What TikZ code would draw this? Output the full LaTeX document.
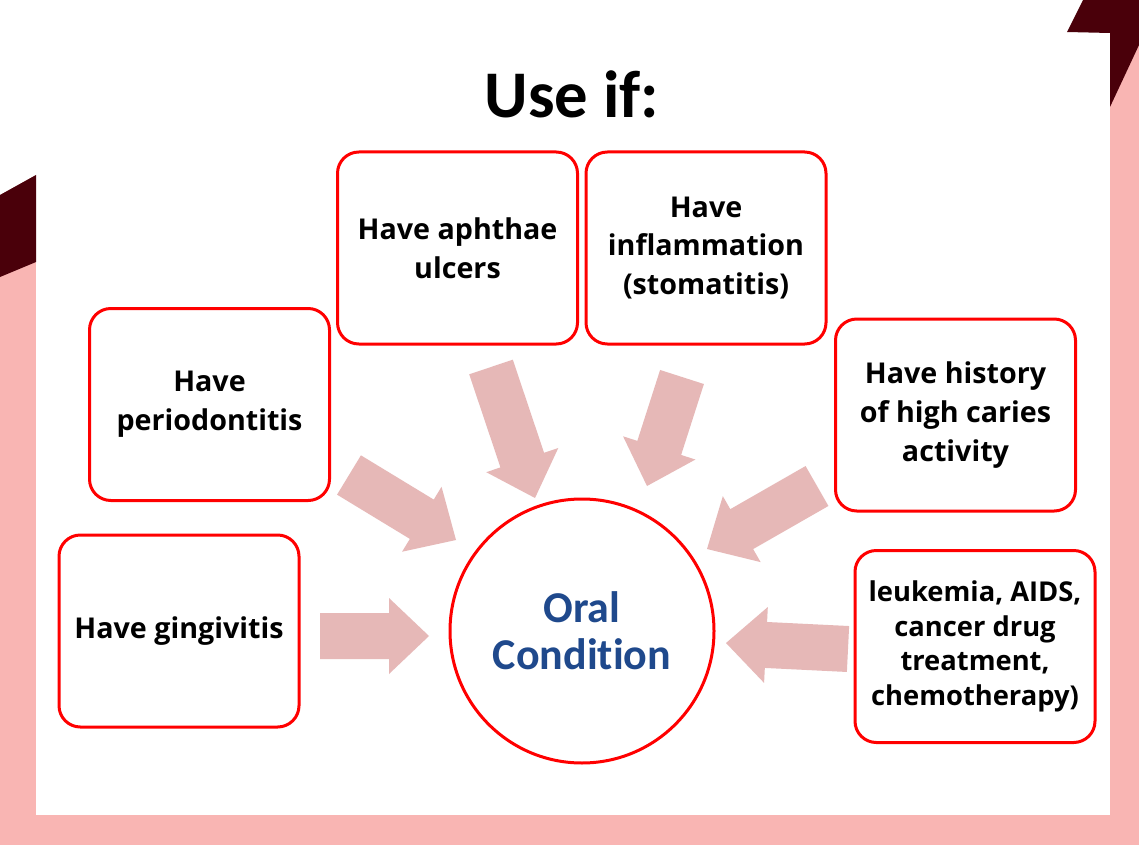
\documentclass[tikz,border=0pt]{standalone}
\usepackage{fontspec}
\setmainfont{Open Sans}
\newfontfamily\carl{Carlito}[Ligatures=NoCommon]
\usetikzlibrary{calc}
\definecolor{pinkbg}{RGB}{249,181,179}
\definecolor{maroon}{RGB}{74,0,10}
\definecolor{arrowpink}{RGB}{230,184,183}
\definecolor{boxred}{RGB}{255,0,0}
\definecolor{oralblue}{RGB}{31,73,140}
\newcommand\blockarrow[2]{%
  \coordinate (ab) at ($(#2)!30pt!(#1)$);
  \fill[arrowpink] ($(#1)!17.25pt!90:(#2)$) -- ($(ab)!17.25pt!90:(#2)$) -- ($(ab)!28.5pt!90:(#2)$) -- (#2)
    -- ($(ab)!28.5pt!-90:(#2)$) -- ($(ab)!17.25pt!-90:(#2)$) -- ($(#1)!17.25pt!-90:(#2)$) -- cycle;}
\begin{document}
\begin{tikzpicture}[x=0.75pt,y=-0.75pt,
  cbox/.style={draw=boxred, line width=2.25pt, rounded corners=16pt, minimum width=180pt,
    minimum height=144pt, align=center, text=black, inner sep=0pt,
    font=\bfseries\fontsize{21.5}{29}\selectfont},
  smallbox/.style={cbox, font=\bfseries\fontsize{20.5}{26}\selectfont}]
% background
\useasboundingbox (0,0) rectangle (1139,845);
\fill[pinkbg] (0,0) rectangle (1139,845);
\fill[white] (36,0) rectangle (1110,815);
\fill[white] (0,0) -- (36,0) -- (36,175) -- (0,195) -- cycle;
\fill[maroon] (0,195) -- (36,175) -- (36,262) -- (0,277) -- cycle;
\fill[maroon] (1067,32) -- (1083,0) -- (1139,0) -- (1139,45) -- (1110,107) -- (1110,33) -- cycle;
% title
\node[font=\carl\bfseries\fontsize{50}{60}\selectfont, anchor=base] (title) at (572,118) {Use if:};
% boxes
\node[cbox] (per) at (209.5,404.5) {Have\\periodontitis};
\node[cbox] (aph) at (457.5,248) {Have aphthae\\ulcers};
\node[cbox] (inf) at (706,248) {Have\\inflammation\\(stomatitis)};
\node[cbox] (car) at (955.5,415) {Have history\\of high caries\\activity};
\node[cbox] (gin) at (179,631) {Have gingivitis};
\node[smallbox] (leu) at (975,646.5) {leukemia, AIDS,\\cancer drug\\treatment,\\chemotherapy)};
% centre
\node[circle, draw=boxred, line width=2.25pt, minimum size=198pt, align=center, text=oralblue,
  font=\carl\bfseries\fontsize{33}{35}\selectfont] (oral) at (582,631) {Oral\\Condition};
% arrows
\coordinate (t1) at (349,475); \coordinate (p1) at (456,540);
\coordinate (t2) at (491,367); \coordinate (p2) at (535,498);
\coordinate (t3) at (682,377); \coordinate (p3) at (647,486);
\coordinate (t4) at (817,486); \coordinate (p4) at (707,549);
\coordinate (t5) at (320,636); \coordinate (p5) at (429,636);
\coordinate (t6) at (848,649); \coordinate (p6) at (726,643);
\blockarrow{t1}{p1}
\blockarrow{t2}{p2}
\blockarrow{t3}{p3}
\blockarrow{t4}{p4}
\blockarrow{t5}{p5}
\blockarrow{t6}{p6}
\end{tikzpicture}
\end{document}
